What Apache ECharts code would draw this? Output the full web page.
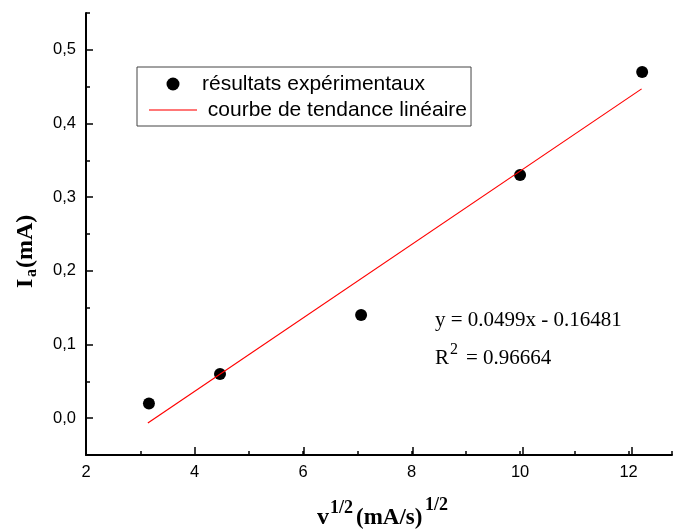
<!DOCTYPE html>
<html>
<head>
<meta charset="utf-8">
<script src="https://cdn.jsdelivr.net/npm/echarts@6/dist/echarts.min.js"></script>
<style>html,body{margin:0;padding:0;background:#fff;}#c{width:675px;height:529px;}</style>
</head>
<body>
<div id="c"></div>
<script>
// ---- data ----
const pointsX = [3.16, 4.47, 7.07, 10.0, 12.25];
const pointsY = [0.02, 0.06, 0.14, 0.33, 0.47];
const trendX = [3.14, 12.24];
const trendY = [-0.0065, 0.447];
const seriesNames = ['résultats expérimentaux', 'courbe de tendance linéaire'];
const equationText = 'y = 0.0499x - 0.16481';
const r2Text = '= 0.96664';

const chart = echarts.init(document.getElementById('c'), null, {renderer: 'canvas'});
const SANS = 'Liberation Sans, Arial, sans-serif';
const SERIF = 'Liberation Serif, Times New Roman, serif';

function isMult(v, step) {
  const r = v / step;
  return Math.abs(r - Math.round(r)) < 1e-6;
}

// y: -0.05 at 455, 0.55 at 13
const yPx = 442 / 0.6;
const y0 = 455 - 0.05 * yPx;
const y05 = y0 - 0.5 * yPx;

const option = {
  animation: false,
  backgroundColor: '#fff',
  grid: [
    {left: 86, right: 0, top: 13, bottom: 74, containLabel: false},
    {left: 86, width: 10 * 589 / 10.8, top: y05, bottom: 529 - y0, containLabel: false}
  ],
  xAxis: [
    {
      type: 'value', gridIndex: 0, min: 2, max: 12.8, interval: 1,
      axisLine: {show: true, onZero: false, lineStyle: {color: '#000', width: 2}},
      axisTick: {show: true, inside: true, length: 4, lineStyle: {color: '#000', width: 1.5}},
      axisLabel: {
        show: true, margin: 9, color: '#000', fontSize: 16.5, fontFamily: SANS,
        formatter: v => (isMult(v, 2) ? String(Math.round(v)) : '')
      },
      splitLine: {show: false}
    },
    {
      type: 'value', gridIndex: 1, min: 2, max: 12, interval: 2, offset: 455 - y0,
      axisLine: {show: false, onZero: false},
      axisTick: {show: true, inside: true, length: 8, lineStyle: {color: '#000', width: 1.5}},
      axisLabel: {show: false},
      splitLine: {show: false}
    }
  ],
  yAxis: [
    {
      type: 'value', gridIndex: 0, min: -0.05, max: 0.55, interval: 0.05,
      axisLine: {show: true, onZero: false, lineStyle: {color: '#000', width: 2}},
      axisTick: {show: true, inside: true, length: 4, lineStyle: {color: '#000', width: 1.5}},
      axisLabel: {
        show: true, margin: 10, color: '#000', fontSize: 16.5, fontFamily: SANS,
        formatter: v => (isMult(v, 0.1) ? (Math.round(v * 10) / 10).toFixed(1).replace('.', ',') : '')
      },
      splitLine: {show: false}
    },
    {
      type: 'value', gridIndex: 1, min: 0, max: 0.5, interval: 0.1,
      axisLine: {show: false, onZero: false},
      axisTick: {show: true, inside: true, length: 7, lineStyle: {color: '#000', width: 1.5}},
      axisLabel: {show: false},
      splitLine: {show: false}
    }
  ],
  legend: {
    left: 137, top: 67, orient: 'vertical',
    padding: [5, 4, 4, 12], itemGap: 2, itemWidth: 48, itemHeight: 13,
    borderColor: '#444', borderWidth: 1, borderRadius: 0,
    textStyle: {fontSize: 21, fontFamily: SANS, color: '#000', lineHeight: 24},
    formatter: name => (name === seriesNames[1] ? ' ' + name : name),
    data: [
      {name: seriesNames[0], icon: 'circle', itemStyle: {color: '#000', opacity: 1}},
      {name: seriesNames[1], icon: 'path://M0,0L48,0L48,2L0,2Z', itemStyle: {color: '#f77', borderWidth: 0}}
    ]
  },
  series: [
    {
      name: seriesNames[0], type: 'scatter', xAxisIndex: 0, yAxisIndex: 0,
      symbol: 'circle', symbolSize: 12, itemStyle: {color: '#000', opacity: 1},
      data: pointsX.map((x, i) => [x, pointsY[i]])
    },
    {
      name: seriesNames[1], type: 'line', xAxisIndex: 0, yAxisIndex: 0,
      symbol: 'none', showSymbol: false,
      lineStyle: {color: '#f00', width: 1.2},
      itemStyle: {color: '#f00'},
      data: trendX.map((x, i) => [x, trendY[i]])
    }
  ],
  graphic: [
    {type: 'text', x: 435, y: 320, style: {text: equationText, font: '21px ' + SERIF, fill: '#000', align: 'left', verticalAlign: 'middle'}},
    {type: 'text', x: 435, y: 358, style: {text: 'R', font: '21px ' + SERIF, fill: '#000', align: 'left', verticalAlign: 'middle'}},
    {type: 'text', x: 450, y: 350, style: {text: '2', font: '16px ' + SERIF, fill: '#000', align: 'left', verticalAlign: 'middle'}},
    {type: 'text', x: 466, y: 358, style: {text: r2Text, font: '21px ' + SERIF, fill: '#000', align: 'left', verticalAlign: 'middle'}},
    // x axis title
    {type: 'text', x: 317, y: 518, style: {text: 'v', font: 'bold 24px ' + SERIF, fill: '#000', align: 'left', verticalAlign: 'middle'}},
    {type: 'text', x: 330, y: 508, style: {text: '1/2', font: 'bold 18px ' + SERIF, fill: '#000', align: 'left', verticalAlign: 'middle'}},
    {type: 'text', x: 356, y: 518, style: {text: '(mA/s)', font: 'bold 23px ' + SERIF, fill: '#000', align: 'left', verticalAlign: 'middle'}},
    {type: 'text', x: 425, y: 505, style: {text: '1/2', font: 'bold 18px ' + SERIF, fill: '#000', align: 'left', verticalAlign: 'middle'}},
    // y axis title (rotated)
    {type: 'text', x: 26, y: 288, rotation: Math.PI / 2, style: {text: 'I', font: 'bold 24px ' + SERIF, fill: '#000', align: 'left', verticalAlign: 'middle'}},
    {type: 'text', x: 32, y: 277, rotation: Math.PI / 2, style: {text: 'a', font: 'bold 16px ' + SERIF, fill: '#000', align: 'left', verticalAlign: 'middle'}},
    {type: 'text', x: 26, y: 268, rotation: Math.PI / 2, style: {text: '(mA)', font: 'bold 24px ' + SERIF, fill: '#000', align: 'left', verticalAlign: 'middle'}}
  ]
};
chart.setOption(option);
</script>
</body>
</html>
